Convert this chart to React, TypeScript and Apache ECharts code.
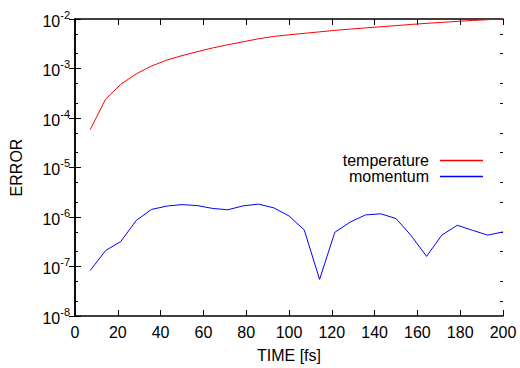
import React, { useEffect, useRef } from "react";
import * as echarts from "echarts";

const times = [7.1, 14.3, 21.4, 28.6, 35.7, 42.9, 50, 57.1, 64.3, 71.4, 78.6, 85.7, 92.9, 100, 107.1, 114.3, 121.4, 128.6, 135.7, 142.9, 150, 157.1, 164.3, 171.4, 178.6, 185.7, 192.9, 200];

const temperature = [5.8e-5, 2.4e-4, 4.8e-4, 7.8e-4, 1.12e-3, 1.48e-3, 1.82e-3, 2.19e-3, 2.6e-3, 3.02e-3, 3.47e-3, 3.98e-3, 4.45e-3, 4.79e-3, 5.13e-3, 5.5e-3, 5.89e-3, 6.25e-3, 6.6e-3, 6.98e-3, 7.35e-3, 7.76e-3, 8.17e-3, 8.55e-3, 8.95e-3, 9.33e-3, 9.68e-3, 1.0e-2];

const momentum = [8.3e-8, 2.1e-7, 3.2e-7, 8.5e-7, 1.42e-6, 1.66e-6, 1.78e-6, 1.7e-6, 1.49e-6, 1.4e-6, 1.68e-6, 1.82e-6, 1.53e-6, 1.05e-6, 5.5e-7, 5.5e-8, 4.9e-7, 7.9e-7, 1.1e-6, 1.16e-6, 9.3e-7, 4.2e-7, 1.6e-7, 4.3e-7, 6.8e-7, 5.4e-7, 4.3e-7, 5.0e-7];

const yMinorTicks = [2e-8, 5e-8, 2e-7, 5e-7, 2e-6, 5e-6, 2e-5, 5e-5, 2e-4, 5e-4, 2e-3, 5e-3];

const seriesNames = ["temperature", "momentum"];
const seriesColors = ["#ff0000", "#0000ff"];

const FONT = "'Liberation Sans', Arial, Helvetica, sans-serif";

export default function App() {
  const ref = useRef<HTMLDivElement>(null);
  useEffect(() => {
    document.body.style.margin = "0";
    if (!ref.current) return;
    const chart = echarts.init(ref.current, undefined, { renderer: "svg" });
    const axisLine = { show: true, lineStyle: { color: "#000", width: 1.5 } };
    const majorY = {
      type: "log" as const,
      logBase: 10,
      min: 1e-8,
      max: 1e-2,
      interval: 1,
      splitLine: { show: false },
      axisLine,
    };
    const minorY = {
      type: "log" as const,
      logBase: 10,
      min: 1e-8,
      max: 1e-2,
      splitLine: { show: false },
      axisLine: { show: false },
      axisLabel: { show: false },
      axisTick: {
        show: true,
        inside: true,
        length: 3,
        customValues: yMinorTicks,
        lineStyle: { color: "#000", width: 1 },
      },
    };
    chart.setOption({
      animation: false,
      textStyle: { fontFamily: FONT },
      grid: { left: 72, top: 19, right: 17, bottom: 49.3, containLabel: false },
      legend: [
        {
          data: [seriesNames[0]],
          right: 37,
          top: 152.5,
          align: "right",
          icon: "rect",
          itemWidth: 43,
          itemHeight: 1.3,
          padding: 0,
          textStyle: { fontSize: 16, color: "#000", fontFamily: FONT, padding: [0, 6, 0, 0] },
        },
        {
          data: [seriesNames[1]],
          right: 37,
          top: 168.5,
          align: "right",
          icon: "rect",
          itemWidth: 43,
          itemHeight: 1.3,
          padding: 0,
          textStyle: { fontSize: 16, color: "#000", fontFamily: FONT, padding: [0, 6, 0, 0] },
        },
      ],
      xAxis: [
        {
          type: "value",
          min: 0,
          max: 200,
          interval: 20,
          position: "bottom",
          name: "TIME [fs]",
          nameLocation: "middle",
          nameGap: 31,
          nameTextStyle: { fontSize: 16, color: "#000", fontFamily: FONT },
          splitLine: { show: false },
          axisLine,
          axisTick: { inside: true, length: 6, lineStyle: { color: "#000", width: 1 } },
          axisLabel: { color: "#000", fontSize: 16, margin: 8, fontFamily: FONT },
        },
        {
          type: "value",
          min: 0,
          max: 200,
          interval: 20,
          position: "top",
          splitLine: { show: false },
          axisLine,
          axisTick: { inside: true, length: 6, lineStyle: { color: "#000", width: 1 } },
          axisLabel: { show: false },
        },
      ],
      yAxis: [
        {
          ...majorY,
          position: "left",
          name: "ERROR",
          nameLocation: "middle",
          nameGap: 51,
          nameRotate: 90,
          nameTextStyle: { fontSize: 16, color: "#000", fontFamily: FONT },
          axisTick: { inside: true, length: 6, lineStyle: { color: "#000", width: 1 } },
          axisLabel: {
            margin: 5,
            formatter: (v: number) => `{b|10}{s|${Math.round(Math.log10(v))}}`,
            rich: {
              b: { fontSize: 16, color: "#000", fontFamily: FONT, lineHeight: 20, verticalAlign: "bottom" },
              s: { fontSize: 11, color: "#000", fontFamily: FONT, lineHeight: 11, verticalAlign: "top" },
            },
          },
        },
        {
          ...majorY,
          position: "right",
          axisTick: { inside: true, length: 6, lineStyle: { color: "#000", width: 1 } },
          axisLabel: { show: false },
        },
        { ...minorY, position: "left" },
        { ...minorY, position: "right" },
      ],
      series: [
        {
          name: seriesNames[0],
          type: "line",
          xAxisIndex: 0,
          yAxisIndex: 0,
          showSymbol: false,
          symbol: "none",
          color: seriesColors[0],
          lineStyle: { color: seriesColors[0], width: 1 },
          data: times.map((t, i) => [t, temperature[i]]),
        },
        {
          name: seriesNames[1],
          type: "line",
          xAxisIndex: 0,
          yAxisIndex: 0,
          showSymbol: false,
          symbol: "none",
          color: seriesColors[1],
          lineStyle: { color: seriesColors[1], width: 1 },
          data: times.map((t, i) => [t, momentum[i]]),
        },
      ],
    });
    return () => chart.dispose();
  }, []);
  return <div ref={ref} style={{ width: 520, height: 368 }} />;
}
